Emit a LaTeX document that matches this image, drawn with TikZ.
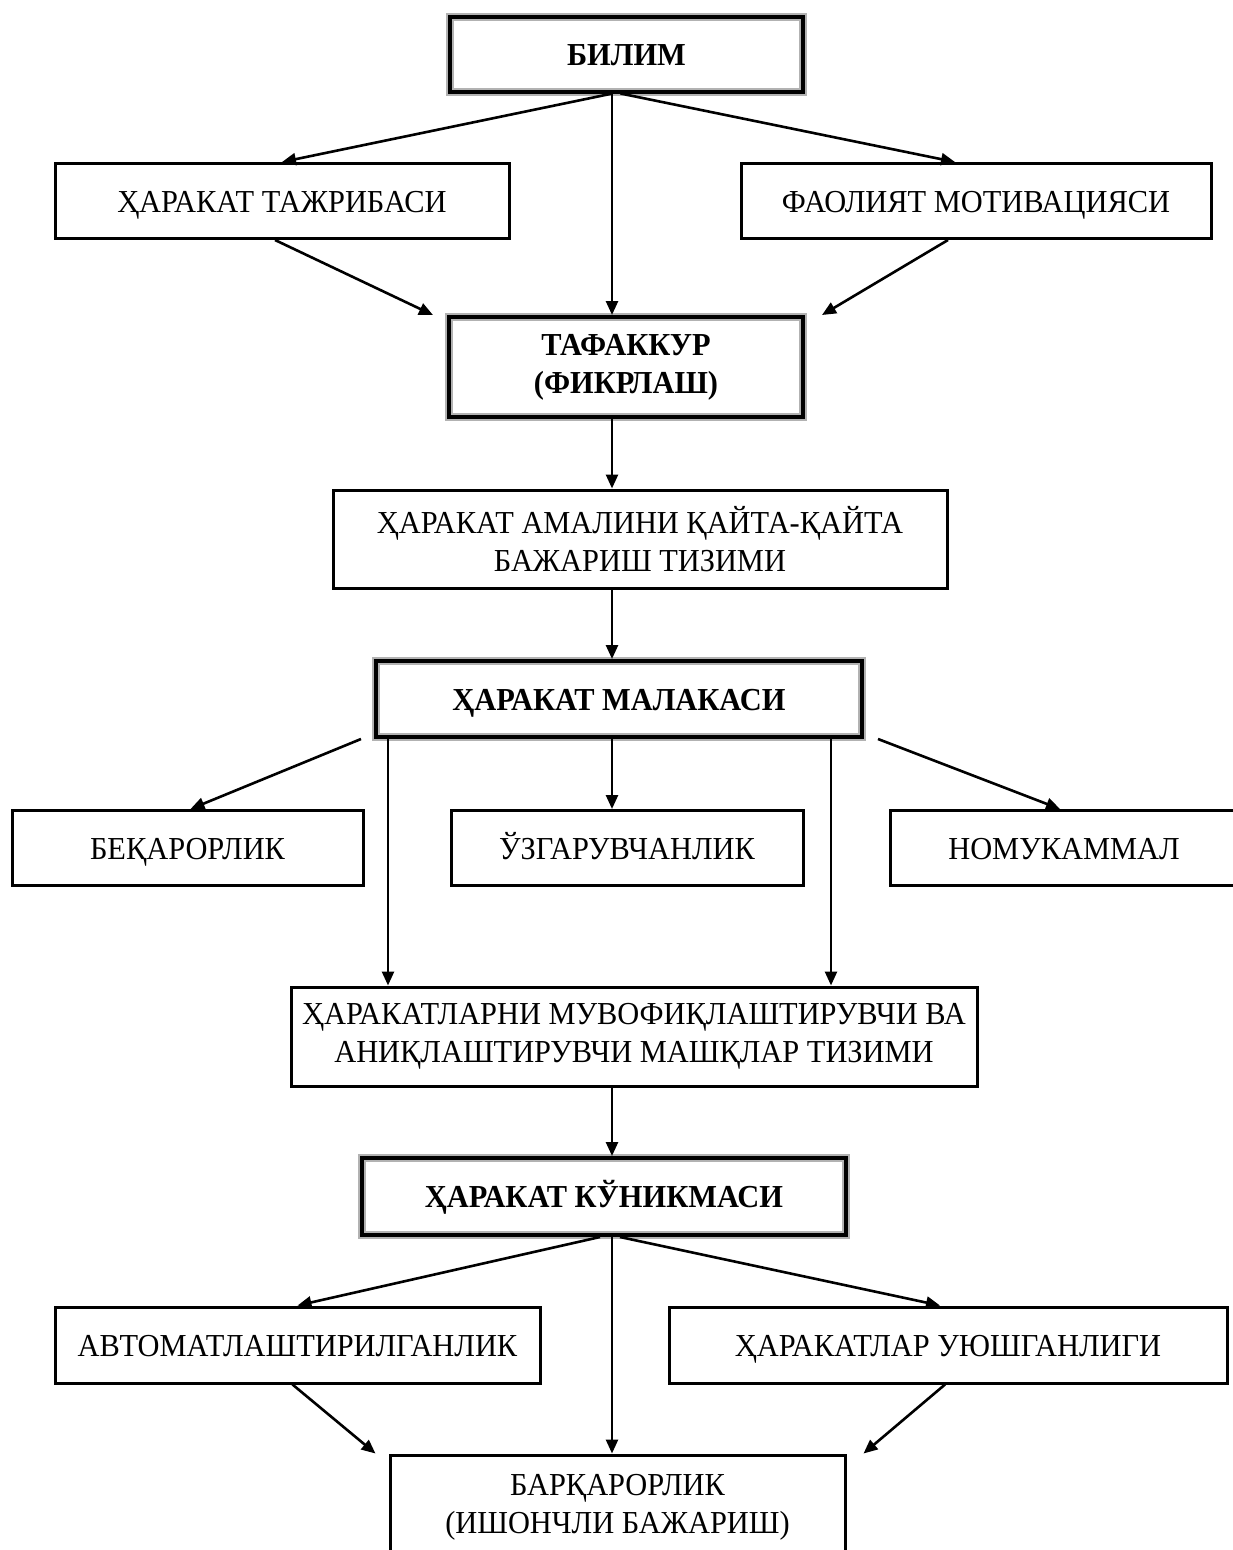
\documentclass[tikz,border=0pt]{standalone}
\usepackage{fontspec}
\setmainfont{Liberation Serif}[FakeStretch=0.95]
\usetikzlibrary{arrows.meta}
\begin{document}
\begin{tikzpicture}[x=1pt,y=-1pt,
  every node/.style={font=\fontsize{32}{38}\selectfont, align=center, inner sep=0pt},
  oneline/.style={text height=22pt, text depth=0pt},
  plainbox/.style={draw=black, line width=3pt, rectangle},
  mainbox/.style={draw=black, line width=4pt, rectangle,
    preaction={draw=black!30, line width=8pt}, font=\fontsize{32}{38}\selectfont\bfseries},
  arr/.style={line width=2.6pt, -{Triangle[length=14pt,width=12pt]}}]
\useasboundingbox (0,0) rectangle (1233,1550);
\fill[white] (0,0) rectangle (1233,1550);
\coordinate (axis) at (612,0);

% upper part
\node[mainbox, oneline, minimum width=353pt, minimum height=75pt] (bilim) at (626.5,54) {БИЛИМ};
\node[plainbox, oneline, minimum width=454pt, minimum height=75pt] (tajriba) at (282,201) {ҲАРАКАТ ТАЖРИБАСИ};
\node[plainbox, oneline, minimum width=470pt, minimum height=75pt] (motiv) at (976,201) {ФАОЛИЯТ МОТИВАЦИЯСИ};
\node[mainbox, minimum width=354pt, minimum height=100pt] (tafakkur) at (626,367) {ТАФАККУР\\(ФИКРЛАШ)};
\node[plainbox, minimum width=614pt, minimum height=98pt] (amal) at (640,539) {ҲАРАКАТ АМАЛИНИ ҚАЙТА-ҚАЙТА\\БАЖАРИШ ТИЗИМИ};

% middle part
\node[mainbox, oneline, minimum width=486pt, minimum height=76pt] (malaka) at (619,699) {ҲАРАКАТ МАЛАКАСИ};
\node[plainbox, oneline, minimum width=351pt, minimum height=75pt] (beqaror) at (187.5,848) {БЕҚАРОРЛИК};
\node[plainbox, oneline, minimum width=352pt, minimum height=75pt] (uzgar) at (627,848) {ЎЗГАРУВЧАНЛИК};
\node[plainbox, oneline, minimum width=348pt, minimum height=75pt] (nomuk) at (1064,848) {НОМУКАММАЛ};
\node[plainbox, minimum width=686pt, minimum height=99pt] (muvof) at (634,1036.5) {ҲАРАКАТЛАРНИ МУВОФИҚЛАШТИРУВЧИ ВА\\АНИҚЛАШТИРУВЧИ МАШҚЛАР ТИЗИМИ};

% lower part
\node[mainbox, oneline, minimum width=484pt, minimum height=77pt] (kunikma) at (604,1196.5) {ҲАРАКАТ КЎНИКМАСИ};
\node[plainbox, oneline, minimum width=485pt, minimum height=76pt] (avtomat) at (297.5,1345) {АВТОМАТЛАШТИРИЛГАНЛИК};
\node[plainbox, oneline, minimum width=558pt, minimum height=76pt] (uyush) at (948,1345) {ҲАРАКАТЛАР УЮШГАНЛИГИ};
\node[plainbox, minimum width=455pt, minimum height=105pt] (barqaror) at (617.5,1507.5) {БАРҚАРОРЛИК\\(ИШОНЧЛИ БАЖАРИШ)};

% connectors
\draw[arr] ([xshift=-14pt]bilim.south) -- (tajriba.north);
\draw[arr] ([xshift=-6pt]bilim.south) -- ([xshift=-21pt]motiv.north);
\draw[arr] (bilim.south -| axis) -- (tafakkur.north -| axis);
\draw[arr] ([xshift=-7pt]tajriba.south) -- ([xshift=-14pt]tafakkur.north west);
\draw[arr] ([xshift=-28pt]motiv.south) -- ([xshift=17pt]tafakkur.north east);
\draw[arr] (tafakkur.south -| axis) -- (amal.north -| axis);
\draw[arr] (amal.south -| axis) -- (malaka.north -| axis);

\draw[arr] ([xshift=-13pt]malaka.south west) -- ([xshift=3pt]beqaror.north);
\draw[arr] (malaka.south -| axis) -- (uzgar.north -| axis);
\draw[arr] ([xshift=14pt]malaka.south east) -- ([xshift=-4pt]nomuk.north);
\draw[arr] ([xshift=14pt]malaka.south west) -- ([xshift=14pt]malaka.south west |- muvof.north);
\draw[arr] ([xshift=-33pt]malaka.south east) -- ([xshift=-33pt]malaka.south east |- muvof.north);
\draw[arr] (muvof.south -| axis) -- (kunikma.north -| axis);

\draw[arr] ([xshift=-4pt]kunikma.south) -- (avtomat.north);
\draw[arr] ([xshift=16pt]kunikma.south) -- ([xshift=-8pt]uyush.north);
\draw[arr] (kunikma.south -| axis) -- (barqaror.north -| axis);
\draw[arr] ([xshift=-5pt]avtomat.south) -- ([xshift=-13pt]barqaror.north west);
\draw[arr] ([xshift=-3pt]uyush.south) -- ([xshift=17pt]barqaror.north east);
\end{tikzpicture}
\end{document}
